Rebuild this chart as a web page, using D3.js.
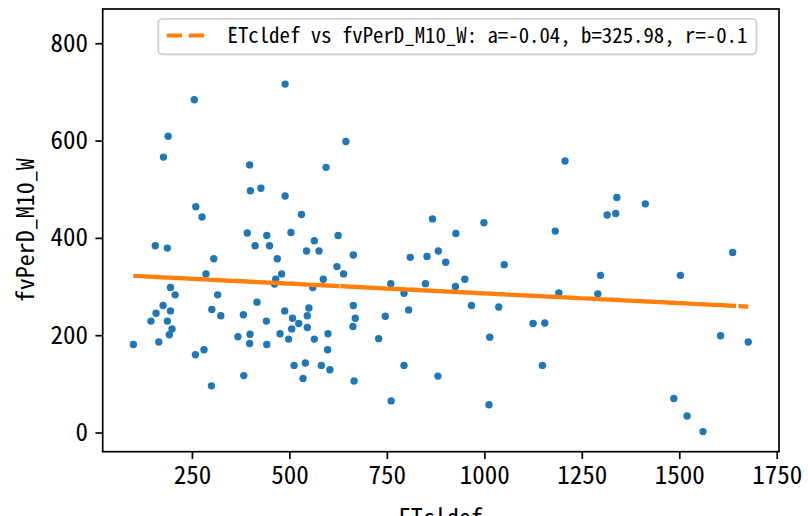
<!DOCTYPE html>
<html>
<head>
<meta charset="utf-8">
<script src="https://cdn.jsdelivr.net/npm/d3@7"></script>
<style>
  body { margin: 0; background: #fff; }
  svg { display: block; }
  .mono { font-family: "Noto Sans Mono CJK SC", "DejaVu Sans Mono", monospace; }
</style>
</head>
<body>
<svg id="chart" width="808" height="516"></svg>
<script>
// ETcldef (x) and fvPerD_M10_W (y)
const etcldef = [354, 489, 256, 189, 177, 398, 594, 645, 1207, 1340,
  400, 427, 489, 260, 276, 531, 392, 442, 504, 625,
  156, 187, 412, 449, 564, 544, 576, 306, 469, 622,
  286, 480, 465, 462, 587, 195, 560, 207, 316, 417,
  176, 301, 488, 550, 158, 195, 324, 382, 508, 546,
  145, 187, 441, 524, 199, 192, 506, 546, 368, 399,
  476, 498, 564, 599, 100, 165, 398, 442, 598, 259,
  281, 512, 541, 582, 604, 383, 535, 300, 867, 999,
  1182, 927, 664, 810, 853, 882, 901, 1051, 639, 760,
  849, 926, 950, 794, 1191, 664, 806, 967, 1037, 669,
  746, 663, 1125, 1155, 729, 1014, 794, 1149, 666, 881,
  761, 1012, 1413, 1315, 1337, 1637, 1298, 1503, 1291, 1606,
  1677, 1486, 1520, 1561];

const fvPerD = [829, 716, 684, 609, 566, 550, 545, 598, 558, 483,
  497, 502, 486, 464, 443, 448, 410, 405, 411, 405,
  384, 379, 384, 384, 394, 373, 373, 357, 357, 341,
  326, 326, 315, 305, 315, 298, 298, 283, 283, 268,
  261, 253, 250, 256, 245, 250, 240, 242, 235, 240,
  229, 229, 229, 224, 213, 201, 213, 216, 197, 202,
  203, 192, 192, 203, 181, 186, 183, 181, 170, 160,
  170, 138, 143, 138, 129, 117, 111, 96, 439, 431,
  414, 409, 365, 360, 362, 373, 350, 345, 326, 306,
  306, 300, 315, 286, 287, 261, 252, 261, 258, 235,
  239, 218, 224, 225, 193, 196, 138, 138, 106, 116,
  65, 57, 470, 447, 450, 370, 323, 323, 285, 199,
  186, 70, 34, 2];

// fit parameters as printed in the legend
const fitA = -0.04;
const fitB = 325.98;
const fitR = -0.1;

const xTicks = [250, 500, 750, 1000, 1250, 1500, 1750];
const yTicks = [0, 200, 400, 600, 800];

const xLabel = "ETcldef";
const yLabel = "fvPerD_M10_W";

const svg = d3.select("#chart");
const box = { left: 102.7, right: 779, top: 9, bottom: 451.7 };

// matplotlib style 5% margins around the data
function padded(vals) {
  const ext = d3.extent(vals);
  const m = (ext[1] - ext[0]) * 0.05;
  return [ext[0] - m, ext[1] + m];
}

const xScale = d3.scaleLinear().domain(padded(etcldef)).range([box.left, box.right]);
const yScale = d3.scaleLinear().domain(padded(fvPerD)).range([box.bottom, box.top]);

const points = etcldef.map(function (d, i) { return { x: d, y: fvPerD[i] }; });

// scatter
svg.append("g")
  .selectAll("circle")
  .data(points)
  .enter().append("circle")
  .attr("cx", function (d) { return xScale(d.x); })
  .attr("cy", function (d) { return yScale(d.y); })
  .attr("r", 3.7)
  .attr("fill", "#1f77b4");

// fitted line, drawn through the points in data order like plt.plot does
const fitLine = d3.line()
  .x(function (d) { return xScale(d.x); })
  .y(function (d) { return yScale(fitA * d.x + fitB); });

svg.append("path")
  .datum(points)
  .attr("d", fitLine)
  .attr("fill", "none")
  .attr("stroke", "#ff7f0e")
  .attr("stroke-width", 4.2)
  .attr("stroke-dasharray", "15.4,6.7");

// axes
const tickFont = "Noto Sans Mono CJK SC, DejaVu Sans Mono, monospace";

const xAxis = svg.append("g")
  .attr("transform", `translate(0,${box.bottom})`)
  .call(d3.axisBottom(xScale).tickValues(xTicks).tickFormat(d3.format("d"))
    .tickSize(7.3).tickPadding(7.3).tickSizeOuter(0));

const yAxis = svg.append("g")
  .attr("transform", `translate(${box.left},0)`)
  .call(d3.axisLeft(yScale).tickValues(yTicks).tickFormat(d3.format("d"))
    .tickSize(7.3).tickPadding(7.3).tickSizeOuter(0));

[xAxis, yAxis].forEach(function (ax) {
  ax.select(".domain").remove();
  ax.selectAll(".tick line").attr("stroke", "#000").attr("stroke-width", 1.7);
  ax.selectAll(".tick text")
    .attr("fill", "#000")
    .style("font-family", tickFont)
    .style("font-size", "25px");
});

// frame
svg.append("rect")
  .attr("x", box.left)
  .attr("y", box.top)
  .attr("width", box.right - box.left)
  .attr("height", box.bottom - box.top)
  .attr("fill", "none")
  .attr("stroke", "#000")
  .attr("stroke-width", 1.7);

// axis labels (the x label runs off the bottom edge, as in the original)
svg.append("text")
  .attr("class", "mono")
  .attr("x", (box.left + box.right) / 2)
  .attr("y", 526)
  .attr("text-anchor", "middle")
  .style("font-size", "24px")
  .text(xLabel);

svg.append("text")
  .attr("class", "mono")
  .attr("transform", `translate(34,${(box.top + box.bottom) / 2}) rotate(-90)`)
  .attr("text-anchor", "middle")
  .style("font-size", "24px")
  .text(yLabel);

// legend
const legend = svg.append("g");
const legendBg = legend.append("rect")
  .attr("x", 158.3)
  .attr("y", 19)
  .attr("rx", 4)
  .attr("height", 35.3)
  .attr("fill", "#fff")
  .attr("fill-opacity", 0.8)
  .attr("stroke", "#cccccc")
  .attr("stroke-width", 1.7);

legend.append("line")
  .attr("x1", 166.7)
  .attr("x2", 208.3)
  .attr("y1", 35.5)
  .attr("y2", 35.5)
  .attr("stroke", "#ff7f0e")
  .attr("stroke-width", 4.2)
  .attr("stroke-dasharray", "15.4,6.7");

const legendText = legend.append("text")
  .attr("class", "mono")
  .attr("x", 227.5)
  .attr("y", 43.3)
  .style("font-size", "20.8px")
  .text(`${xLabel} vs ${yLabel}: a=${fitA}, b=${fitB}, r=${fitR}`);

const textLen = legendText.node().getComputedTextLength();
legendBg.attr("width", 227.5 - 158.3 + textLen + 9);
</script>
</body>
</html>
